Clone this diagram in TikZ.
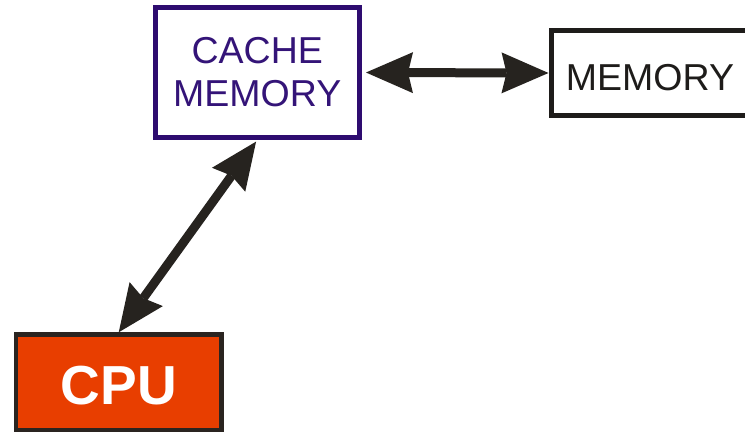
\documentclass[tikz,border=0pt]{standalone}
\usepackage{fontspec}
\setmainfont{Liberation Sans}
\usetikzlibrary{arrows.meta}
\definecolor{cachepurple}{RGB}{46,12,112}
\definecolor{cachetext}{RGB}{52,20,120}
\definecolor{arrowdark}{RGB}{38,35,31}
\definecolor{cpured}{RGB}{232,62,0}
\definecolor{cpuborder}{RGB}{42,36,32}
\definecolor{memborder}{RGB}{30,28,26}
\tikzset{
  boxnode/.style={rectangle, inner sep=0pt, align=center},
  tipshape/.tip={Stealth[length=47pt, width=41pt, inset=5pt, line width=0pt]},
  conn/.style={line width=9pt, draw=arrowdark, tipshape-tipshape}
}
\begin{document}
\begin{tikzpicture}[x=1pt,y=-1pt]
\clip (0,0) rectangle (745,433);
\fill[white] (0,0) rectangle (745,433);
\node[boxnode, draw=cachepurple, line width=5pt, minimum width=203.5pt, minimum height=130pt,
      text=cachetext, font=\fontsize{37.5}{43}\selectfont] (cache) at (257.25,72.5) {CACHE\\MEMORY};
\node[boxnode, draw=memborder, line width=5pt, minimum width=198pt, minimum height=85pt,
      text=memborder, font=\fontsize{37.5}{43}\selectfont, text height=36pt, text depth=0pt] (mem) at (650,73) {MEMORY};
\node[boxnode, fill=cpured, draw=cpuborder, line width=4.5pt, minimum width=205.5pt, minimum height=95.5pt,
      text=white, font=\fontsize{55}{60}\selectfont\bfseries, text height=45pt, text depth=0pt] (cpu) at (118.75,382.25) {CPU};
\draw[conn, shorten <=4.5pt] (cache.east) -- (mem.west);
\draw[conn, shorten >=2pt] (cpu.north) -- (cache.south);
\end{tikzpicture}
\end{document}
